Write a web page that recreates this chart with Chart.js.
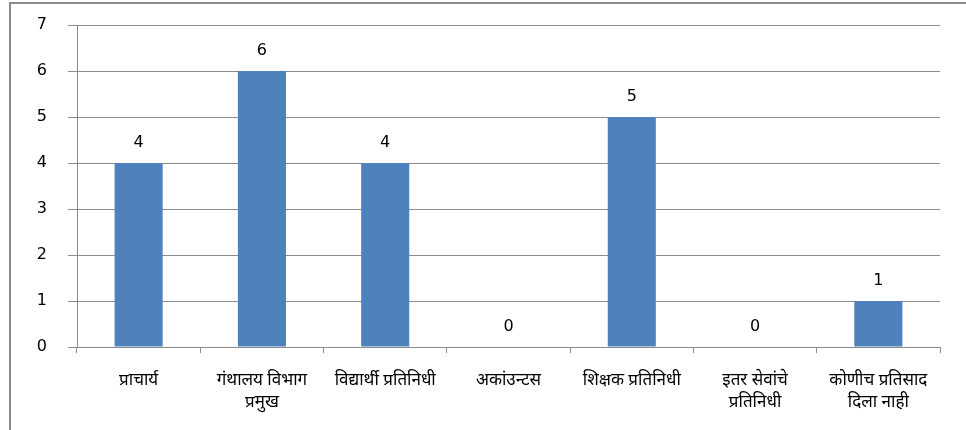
<!DOCTYPE html>
<html>
<head>
<meta charset="utf-8">
<script src="https://cdn.jsdelivr.net/npm/chart.js@4/dist/chart.umd.min.js"></script>
<style>
  html, body { margin: 0; padding: 0; background: #fff; }
  #wrap { width: 966px; height: 430px; position: relative; }
</style>
</head>
<body>
<div id="wrap"><canvas id="Chart" width="966" height="430"></canvas></div>
<script>
const categories = [
  'प्राचार्य',
  ['गंथालय विभाग', 'प्रमुख'],
  'विद्यार्थी प्रतिनिधी',
  'अकांउन्टस',
  'शिक्षक प्रतिनिधी',
  ['इतर सेवांचे', 'प्रतिनिधी'],
  ['कोणीच प्रतिसाद', 'दिला नाही']
];
const counts = [4, 6, 4, 0, 5, 0, 1];
const yTicks = [0, 1, 2, 3, 4, 5, 6, 7];

const numFont = { family: "'DejaVu Sans', Verdana, sans-serif", size: 16 };
const catFont = { family: "'Noto Sans', 'Lohit Devanagari', 'Mangal', sans-serif", size: 17, lineHeight: 1.3 };

// outer frame around the whole chart
const frame = {
  id: 'frame',
  beforeDraw(chart) {
    const c = chart.ctx;
    c.save();
    c.strokeStyle = '#8a8a8a';
    c.lineWidth = 2;
    c.strokeRect(10, 3, chart.width + 20, chart.height + 20);
    c.restore();
  }
};

// value above each bar
const valueLabels = {
  id: 'valueLabels',
  afterDatasetsDraw(chart) {
    const c = chart.ctx;
    const meta = chart.getDatasetMeta(0);
    c.save();
    c.font = numFont.size + 'px ' + numFont.family;
    c.fillStyle = '#000';
    c.textAlign = 'center';
    c.textBaseline = 'middle';
    meta.data.forEach((bar, i) => {
      c.fillText(String(counts[i]), bar.x, bar.y - 20);
    });
    c.restore();
  }
};

new Chart(document.getElementById('Chart').getContext('2d'), {
  type: 'bar',
  data: {
    labels: categories,
    datasets: [{
      data: counts,
      backgroundColor: '#4f81bd',
      borderWidth: 0,
      barPercentage: 0.52,
      categoryPercentage: 0.75
    }]
  },
  options: {
    responsive: false,
    animation: false,
    layout: { padding: { left: 0, right: 26, top: 25, bottom: 0 } },
    plugins: { legend: { display: false }, tooltip: { enabled: false } },
    scales: {
      x: {
        grid: { drawOnChartArea: false, drawTicks: true, tickLength: 6, color: '#8c8c8c', offset: true },
        border: { color: '#8c8c8c', width: 1 },
        ticks: { font: catFont, color: '#000', padding: 16, maxRotation: 0, autoSkip: false },
        afterFit(s) { s.height = 430 - 347; }
      },
      y: {
        min: 0,
        max: 7,
        afterBuildTicks(s) { s.ticks = yTicks.map(v => ({ value: v })); },
        grid: { color: '#8c8c8c', tickLength: 9 },
        border: { color: '#8c8c8c', width: 1 },
        ticks: { font: numFont, color: '#000', padding: 21 },
        afterFit(s) { s.width = 77; s.paddingTop = 0; s.paddingBottom = 0; }
      }
    }
  },
  plugins: [frame, valueLabels]
});
</script>
</body>
</html>
